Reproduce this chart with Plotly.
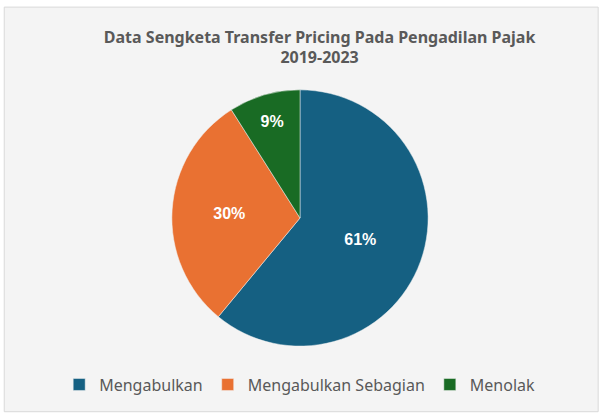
import plotly.graph_objects as go

labels = ["Mengabulkan", "Mengabulkan Sebagian", "Menolak"]
values = [61, 30, 9]
colors = ["#156082", "#E97132", "#196B24"]

title_text = "Data Sengketa Transfer Pricing Pada Pengadilan Pajak<br>2019-2023"

fig = go.Figure()
fig.add_trace(go.Pie(
    labels=labels,
    values=values,
    sort=False,
    direction="clockwise",
    rotation=0,
    marker=dict(colors=colors, line=dict(color="#f2f2f2", width=0.5)),
    textinfo="percent",
    texttemplate="%{percent:.0%}",
    textposition="inside",
    insidetextorientation="horizontal",
    textfont=dict(family="Liberation Sans", size=16, color="white", weight="bold"),
    domain=dict(x=[0, 600 / 603], y=[0.172, 0.785]),
    hoverinfo="label+percent",
))

fig.update_layout(
    width=603, height=418,
    margin=dict(l=0, r=0, t=0, b=0),
    paper_bgcolor="white",
    plot_bgcolor="white",
    title=dict(text=title_text, x=0.53, xanchor="center", y=0.898, yanchor="middle",
               font=dict(family="Noto Sans", size=16, color="#595959", weight="bold")),
    showlegend=True,
    legend=dict(orientation="h", x=0.497, xanchor="center", y=0.08, yanchor="middle",
                font=dict(family="Noto Sans", size=16, color="#595959"),
                itemwidth=30, bgcolor="rgba(0,0,0,0)", traceorder="normal"),
    shapes=[dict(type="rect", xref="paper", yref="paper", x0=0.007, x1=0.992, y0=0.015, y1=0.983,
                 fillcolor="#f4f4f4", line=dict(color="#d9d9d9", width=1), layer="below")],
)

config = {'displayModeBar': False}
fig.write_html("out.html", config=config, post_script="document.body.style.margin='0';")
